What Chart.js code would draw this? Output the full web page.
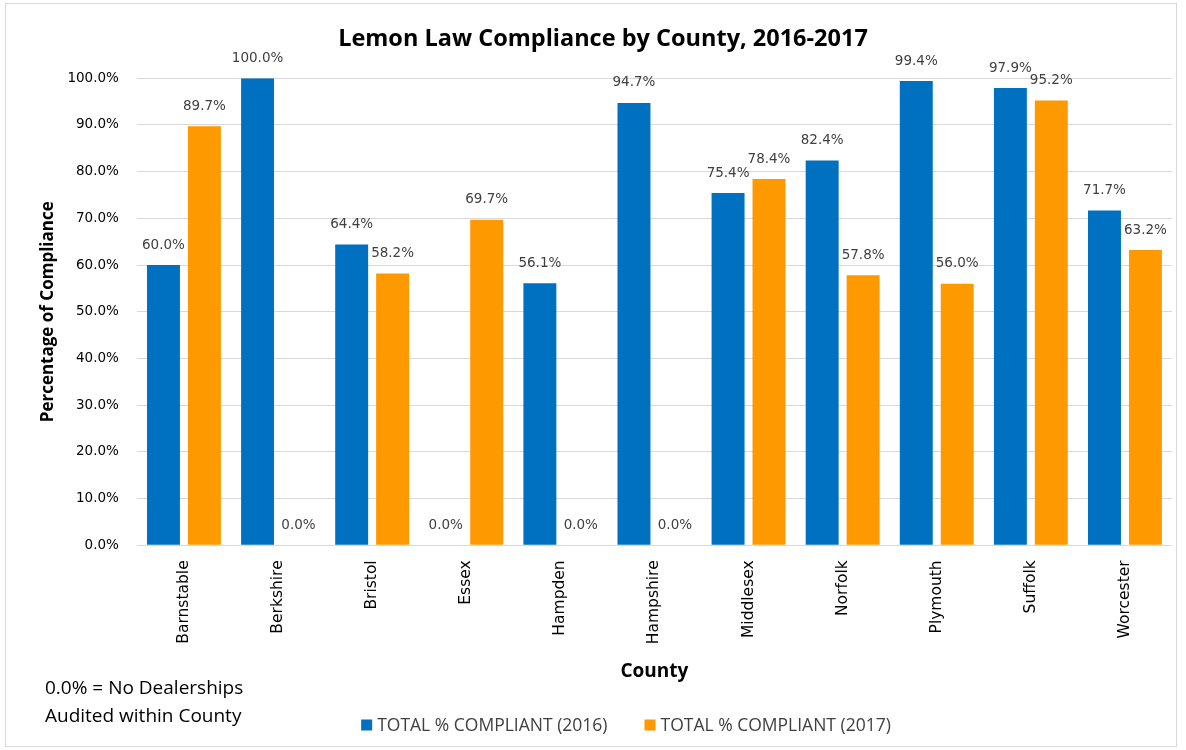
<!DOCTYPE html>
<html>
<head>
<meta charset="utf-8">
<script src="https://cdn.jsdelivr.net/npm/chart.js@4.4.1/dist/chart.umd.min.js"></script>
<style>
  html, body { margin: 0; padding: 0; background: #ffffff; }
  #wrap { position: relative; width: 1186px; height: 750px; }
  #frame { position: absolute; left: 5px; top: 3px; width: 1172px; height: 744px; border: 1px solid #d9d9d9; box-sizing: border-box; pointer-events: none; }
  #note { position: absolute; left: 45px; top: 673px; font-family: "Open Sans", "Liberation Sans", sans-serif; font-size: 19px; line-height: 28px; color: #000; }
</style>
</head>
<body>
<div id="wrap">
  <canvas id="c" width="1186" height="750"></canvas>
  <div id="frame"></div>
  <div id="note">0.0% = No Dealerships<br>Audited within County</div>
</div>
<script>
const counties = ["Barnstable", "Berkshire", "Bristol", "Essex", "Hampden", "Hampshire", "Middlesex", "Norfolk", "Plymouth", "Suffolk", "Worcester"];
const compliant2016 = [60.0, 100.0, 64.4, 0.0, 56.1, 94.7, 75.4, 82.4, 99.4, 97.9, 71.7];
const compliant2017 = [89.7, 0.0, 58.2, 69.7, 0.0, 0.0, 78.4, 57.8, 56.0, 95.2, 63.2];
const seriesNames = ["TOTAL % COMPLIANT (2016)", "TOTAL % COMPLIANT (2017)"];
const seriesColors = ["#0070C0", "#FF9900"];
const chartTitle = "Lemon Law Compliance by County, 2016-2017";
const yTitle = "Percentage of Compliance";
const xTitle = "County";

const FONT = '"Open Sans", "Liberation Sans", sans-serif';
const NUMFONT = '"DejaVu Sans", "Open Sans", sans-serif';

const labelPlugin = {
  id: 'barLabels',
  afterDatasetsDraw(chart) {
    const ctx = chart.ctx;
    ctx.save();
    ctx.font = '13.5px ' + NUMFONT;
    ctx.fillStyle = '#404040';
    ctx.textAlign = 'center';
    ctx.textBaseline = 'middle';
    chart.data.datasets.forEach((ds, i) => {
      const meta = chart.getDatasetMeta(i);
      meta.data.forEach((bar, j) => {
        ctx.fillText(ds.data[j].toFixed(1) + '%', bar.x, bar.y - 20);
      });
    });
    ctx.restore();
  }
};

const legendPlugin = {
  id: 'bottomLegend',
  afterDraw(chart) {
    const ctx = chart.ctx;
    ctx.save();
    ctx.font = '17.5px ' + FONT;
    ctx.textBaseline = 'middle';
    ctx.textAlign = 'left';
    const box = 11, gapText = 5, gapItem = 37, cy = 725, centerX = 626;
    const items = chart.data.datasets.map(ds => ({ text: ds.label, color: ds.backgroundColor, w: ctx.measureText(ds.label).width }));
    let total = 0;
    items.forEach((it, i) => { total += box + gapText + it.w + (i < items.length - 1 ? gapItem : 0); });
    let x = centerX - total / 2;
    items.forEach(it => {
      ctx.fillStyle = it.color;
      ctx.fillRect(x, cy - box / 2, box, box);
      x += box + gapText;
      ctx.fillStyle = '#404040';
      ctx.fillText(it.text, x, cy + 1);
      x += it.w + gapItem;
    });
    ctx.restore();
  }
};

new Chart(document.getElementById('c'), {
  type: 'bar',
  data: {
    labels: counties,
    datasets: [
      { label: seriesNames[0], data: compliant2016, backgroundColor: seriesColors[0], borderWidth: 0 },
      { label: seriesNames[1], data: compliant2017, backgroundColor: seriesColors[1], borderWidth: 0 }
    ]
  },
  options: {
    responsive: false,
    animation: false,
    devicePixelRatio: 1,
    layout: { padding: { top: 25, left: 34, right: 14, bottom: 57 } },
    datasets: { bar: { categoryPercentage: 0.87, barPercentage: 0.805 } },
    plugins: {
      title: {
        display: true, text: chartTitle, color: '#000',
        font: { family: FONT, size: 23.5, weight: 'bold' },
        padding: { top: 0, bottom: 25 }
      },
      legend: { display: false },
      tooltip: { enabled: false }
    },
    scales: {
      x: {
        grid: { display: false, drawTicks: false },
        border: { display: false },
        ticks: { color: '#000', minRotation: 90, maxRotation: 90, padding: 15, font: { family: NUMFONT, size: 15.5 } },
        title: { display: true, text: xTitle, color: '#000', font: { family: FONT, size: 19, weight: 'bold' }, padding: { top: 1, bottom: 10 } }
      },
      y: {
        min: 0, max: 100,
        grid: { color: '#d9d9d9', drawTicks: false },
        border: { display: false },
        ticks: { stepSize: 10, color: '#000', padding: 18, font: { family: NUMFONT, size: 13.5 }, callback: v => v.toFixed(1) + '%' },
        title: { display: true, text: yTitle, color: '#000', font: { family: FONT, size: 17, weight: 'bold' }, padding: { top: 4, bottom: -9 } }
      }
    }
  },
  plugins: [labelPlugin, legendPlugin]
});
</script>
</body>
</html>
